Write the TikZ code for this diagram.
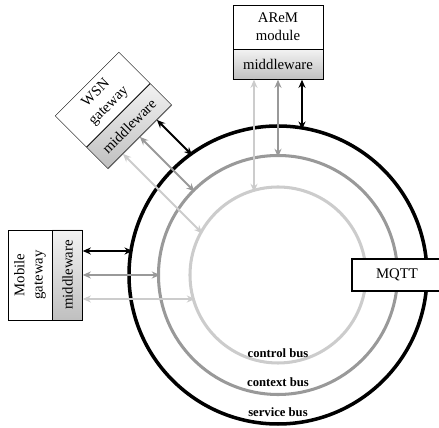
\documentclass[tikz,border=0pt]{standalone}
\usepackage{fontspec}
\setmainfont{Liberation Serif}
\usetikzlibrary{arrows.meta,positioning,calc,shadows}

\definecolor{ctxgray}{gray}{0.6}
\definecolor{ctlgray}{gray}{0.8}

\tikzset{
	unit/.style={draw, fill=white, minimum width=2.7cm, minimum height=1.32cm, inner sep=0pt, align=center, font=\fontsize{12.6}{15.5}\selectfont},
	mware/.style={draw, top color=gray!10, bottom color=gray!50, minimum width=2.7cm, minimum height=0.9cm, inner sep=0pt, font=\fontsize{12.6}{15.5}\selectfont},
	buslabel/.style={font=\bfseries\fontsize{10.8}{12}\selectfont},
	link/.style={<->, >={Stealth[length=7pt,width=6pt]}, line width=1.7pt},
}

\begin{document}
\begin{tikzpicture}[x=0.03cm, y=0.03cm]

	\useasboundingbox (-278,-153) rectangle (161,275);

	% Buses
	\draw[line width=3pt] (0,0) circle (149);
	\draw[line width=2.6pt, ctxgray] (0,0) circle (119.5);
	\draw[line width=2.6pt, ctlgray] (0,0) circle (88);

	\node[buslabel] (ctl) at (0,-78) {control bus};
	\node[buslabel] (ctx) at (0,-107) {context bus};
	\node[buslabel] (srv) at (0,-137) {service bus};

	\node[draw, fill=white, line width=1.7pt, minimum width=2.7cm, minimum height=0.96cm, font=\fontsize{12.6}{15.5}\selectfont] (mqtt) at (119,0) {MQTT};

	% Units
	\foreach \ang/\name/\txt in {90/arem/{AReM\\module}, 135/wsn/{WSN\\gateway}, 180/mob/{Mobile\\gateway}}{
		\begin{scope}[rotate=\ang-90, transform shape]
			\node[unit, drop shadow={opacity=0.25, shadow xshift=0.6pt, shadow yshift=-0.6pt}] (\name) at (0,248) {\txt};
			\node[mware, below=0pt of \name, drop shadow={opacity=0.25, shadow xshift=0.6pt, shadow yshift=-0.6pt}] (\name-mw) {middleware};

			\coordinate (\name-ctl) at (-24,83);
			\coordinate (\name-ctx) at (0,118);
			\coordinate (\name-srv) at (24,145.3);

			\draw[link, ctlgray] ($(\name-mw.south)+(-24,0)$) -- (\name-ctl);
			\draw[link, ctxgray] (\name-mw.south) -- (\name-ctx);
			\draw[link, black] ($(\name-mw.south)+(24,0)$) -- (\name-srv);
		\end{scope}
	}

\end{tikzpicture}
\end{document}
